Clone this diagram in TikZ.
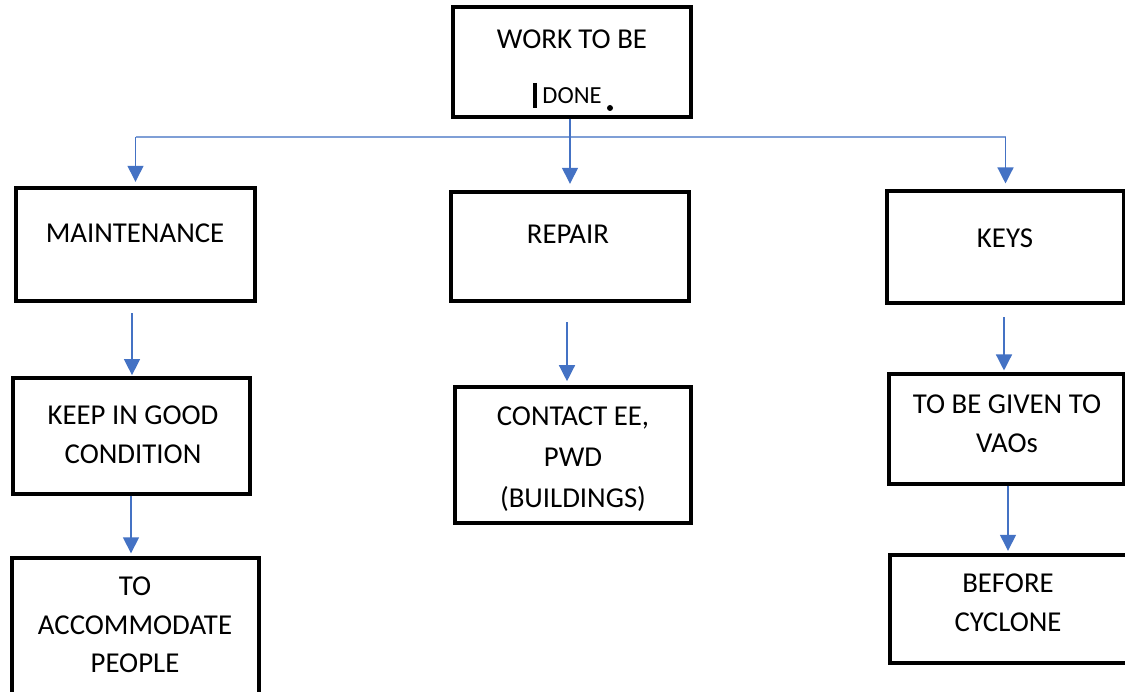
\documentclass[tikz,border=0pt]{standalone}
\usepackage{fontspec}
\setmainfont{Carlito}
\usetikzlibrary{arrows.meta,fit}
\definecolor{flow}{HTML}{4472C4}
\definecolor{bus}{HTML}{7F9FD6}
\tikzset{
  box/.style={draw=black, line width=2.3pt, inner sep=0pt, fill=white},
  label/.style={font=\fontsize{21.6}{29}\selectfont, align=center, inner sep=0pt},
  wire/.style={draw=bus, line width=1pt},
  arrow/.style={draw=flow, line width=1pt, -{Triangle[width=12pt,length=12pt]}},
}
\begin{document}
\begin{tikzpicture}[x=0.75pt, y=-0.75pt]
\useasboundingbox (0,0) rectangle (1125,692);
\clip (0,0) rectangle (1125,692);
\fill[white] (0,0) rectangle (1125,692);

% boxes
\node[box, fit={(453,7) (691,117)}] (top) {};
\node[box, fit={(16,188) (255,301)}] (maint) {};
\node[box, fit={(451,192) (689,301)}] (repair) {};
\node[box, fit={(887,191) (1124,303)}] (keys) {};
\node[box, fit={(13,378) (250,494)}] (keep) {};
\node[box, line width=2.7pt, fit={(455,387) (691,523)}] (contact) {};
\node[box, fit={(889,374) (1124,484)}] (vaos) {};
\node[box, line width=3pt, fit={(12,558) (259,710)}] (accom) {};
\node[box, fit={(890,555) (1130,663)}] (before) {};

% texts
\node[label] (t1) at (572,39) {WORK TO BE};
\node[label, font=\fontsize{18.4}{22}\selectfont] (t2) at (572,96) {DONE};
\draw[line width=3pt] (535,83) -- (535,108);
\fill (610,108) circle (3);
\node[label] (t3) at (135,233) {MAINTENANCE};
\node[label] (t4) at (568,234) {REPAIR};
\node[label] (t5) at (1005,238) {KEYS};
\node[label] (t6) at (133,434.5) {KEEP IN GOOD\\CONDITION};
\node[label, font=\fontsize{21.6}{30.5}\selectfont] (t7) at (573,459) {CONTACT EE,\\PWD\\(BUILDINGS)};
\node[label] (t8) at (1007,424) {TO BE GIVEN TO\\VAOs};
\node[label] (t9) at (135,625) {TO\\ACCOMMODATE\\PEOPLE};
\node[label] (t10) at (1008,602.5) {BEFORE\\CYCLONE};

% connectors from the top box
\coordinate (busy) at (0,137);
\draw[wire] (maint.north |- busy) -- (keys.north |- busy);
\draw[arrow, shorten >=5pt] (repair.north |- top.south) -- (repair.north);
\draw[arrow, shorten >=3.5pt] (maint.north |- busy) -- (maint.north);
\draw[arrow, shorten >=4.5pt] (keys.north |- busy) -- (keys.north);

% second level
\coordinate (m1) at (132,313);
\coordinate (r1) at (567,322);
\coordinate (k1) at (1004,317);
\draw[arrow, shorten >=1pt] (m1) -- (m1 |- keep.north);
\draw[arrow, shorten >=3pt] (r1) -- (r1 |- contact.north);
\draw[arrow, shorten >=1.5pt] (k1) -- (k1 |- vaos.north);

% third level
\coordinate (c1) at (131,0);
\coordinate (v1) at (1008,0);
\draw[arrow, shorten >=2pt] (c1 |- keep.south) -- (c1 |- accom.north);
\draw[arrow, shorten >=2pt] (v1 |- vaos.south) -- (v1 |- before.north);
\end{tikzpicture}
\end{document}
